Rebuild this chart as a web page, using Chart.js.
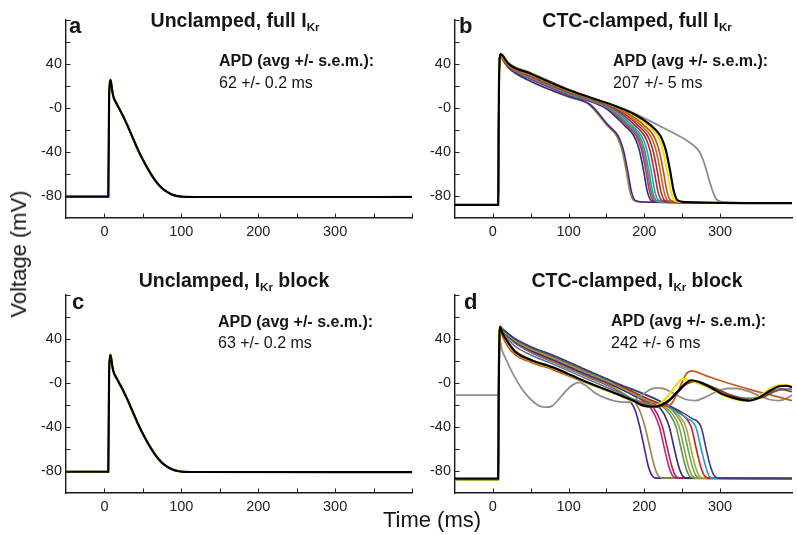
<!DOCTYPE html>
<html>
<head>
<meta charset="utf-8">
<script src="https://cdn.jsdelivr.net/npm/chart.js@4.4.1/dist/chart.umd.min.js"></script>
<style>
  body { margin: 0; width: 797px; height: 535px; position: relative; background: #fff; overflow: hidden; }
  canvas { position: absolute; }
  .t { position: absolute; font-family: 'Liberation Sans', Arial, sans-serif; line-height: 1; white-space: nowrap; color: #151515; }
  .title { font-size: 19.5px; font-weight: bold; transform: translateX(-50%); }
  .sub { font-size: 11.5px; position: relative; top: 4px; }
  .letter { font-size: 22px; font-weight: bold; }
  .apd { font-size: 16px; font-weight: bold; }
  .val { font-size: 16px; }
  .axis { font-size: 22px; }
</style>
</head>
<body>
<canvas id="chartA" width="402" height="248" style="left:16px;top:0px"></canvas>
<canvas id="chartB" width="392" height="248" style="left:405px;top:0px"></canvas>
<canvas id="chartC" width="402" height="248" style="left:16px;top:275px"></canvas>
<canvas id="chartD" width="392" height="248" style="left:405px;top:275px"></canvas>

<div class="t title" style="left:235px;top:11px">Unclamped, full I<span class="sub">Kr</span></div>
<div class="t title" style="left:637px;top:11px">CTC-clamped, full I<span class="sub">Kr</span></div>
<div class="t title" style="left:234px;top:271px">Unclamped, I<span class="sub">Kr</span> block</div>
<div class="t title" style="left:637px;top:271px">CTC-clamped, I<span class="sub">Kr</span> block</div>

<div class="t letter" style="left:69px;top:15px">a</div>
<div class="t letter" style="left:459px;top:15px">b</div>
<div class="t letter" style="left:72px;top:291px">c</div>
<div class="t letter" style="left:464px;top:291px">d</div>

<div class="t apd" style="left:219px;top:53px">APD (avg +/- s.e.m.):</div>
<div class="t val" style="left:219px;top:75px">62 +/- 0.2 ms</div>
<div class="t apd" style="left:613px;top:53px">APD (avg +/- s.e.m.):</div>
<div class="t val" style="left:613px;top:75px">207 +/- 5 ms</div>
<div class="t apd" style="left:218px;top:314px">APD (avg +/- s.e.m.):</div>
<div class="t val" style="left:218px;top:335px">63 +/- 0.2 ms</div>
<div class="t apd" style="left:611px;top:313px">APD (avg +/- s.e.m.):</div>
<div class="t val" style="left:611px;top:335px">242 +/- 6 ms</div>

<div class="t axis" style="left:19px;top:254px;transform:translate(-50%,-50%) rotate(-90deg)">Voltage (mV)</div>
<div class="t axis" style="left:432px;top:509px;transform:translateX(-50%)">Time (ms)</div>

<script>
// ---- panel a: unclamped, full IKr  ([time ms, voltage mV])
const aBrown = [[-50,-80.4],[5,-80.4],[6,5],[7,22.5],[8,25],[9.5,19.5],[10.5,14.5],[12,10],[15,5.5],[18,1.5],[21,-2.5],[24,-6.5],[27,-11],[30,-15.5],[34,-22],[38,-28.5],[42,-35],[46,-41],[50,-46.5],[55,-53],[60,-59],[65,-64.3],[70,-69],[75,-72.7],[80,-75.4],[85,-77.5],[90,-79],[95,-80],[100,-80.5],[120,-80.7],[400,-80.6]];
const aGreen = [[-50,-80.8],[5,-80.8],[6,5],[7,22],[8,24.8],[9.5,18.5],[10.5,13.5],[12,9],[15,4.5],[18,0.5],[21,-3.5],[24,-7.5],[27,-12],[30,-16.5],[34,-23],[38,-29.5],[42,-36],[46,-42],[50,-47.5],[55,-54],[60,-60],[65,-65.3],[70,-69.6],[75,-73.3],[80,-75.8],[85,-77.9],[90,-79.3],[95,-80.2],[100,-80.7],[120,-81],[400,-81]];
const aYellow = [[-50,-80.6],[5,-80.6],[6,6],[7,23.5],[8,26.3],[9.5,20],[10.5,14.5],[12,10],[15,5],[18,1],[24,-7],[30,-16],[38,-29],[46,-41.5],[55,-53.5],[65,-64.8],[75,-73],[85,-77.7],[95,-80.1],[110,-80.8],[400,-80.9]];
const aBlack = [[-50,-80.6],[5,-80.6],[6,5],[7,22.5],[8,25.3],[9.5,19],[10.5,14],[12,9.5],[15,5],[18,1],[21,-3],[24,-7],[27,-11.5],[30,-16],[34,-22.5],[38,-29],[42,-35.5],[46,-41.5],[50,-47],[55,-53.5],[60,-59.5],[65,-64.8],[70,-69.3],[75,-73],[80,-75.6],[85,-77.7],[90,-79.2],[95,-80.1],[100,-80.6],[120,-80.9],[400,-80.9]];

// ---- panel c: unclamped, IKr block
const cBrown = [[-50,-80.5],[5,-80.5],[6,5],[7,22.5],[8,25],[9.5,19.6],[10.5,14.6],[12,10.2],[15,5.8],[18,1.9],[21,-2],[24,-6],[27,-10.3],[30,-14.7],[34,-21.2],[38,-27.6],[42,-34],[46,-40.1],[50,-45.7],[55,-52.3],[60,-58.4],[65,-63.8],[70,-68.4],[75,-72.3],[80,-75.1],[85,-77.3],[90,-78.9],[95,-79.9],[100,-80.5],[120,-80.8],[400,-80.7]];
const cGreen = [[-50,-80.9],[5,-80.9],[6,5],[7,22],[8,24.8],[9.5,18.6],[10.5,13.6],[12,9.2],[15,4.8],[18,0.8],[21,-3.1],[24,-7.1],[27,-11.5],[30,-16],[34,-22.5],[38,-29],[42,-35.4],[46,-41.5],[50,-47],[55,-53.5],[60,-59.5],[65,-64.8],[70,-69.3],[75,-73],[80,-75.6],[85,-77.7],[90,-79.2],[95,-80.2],[100,-80.7],[120,-81],[400,-81.1]];
const cYellow = [[-50,-80.7],[5,-80.7],[6,6],[7,23.5],[8,26.3],[9.5,20],[10.5,14.6],[12,10.1],[15,5.3],[18,1.3],[24,-6.6],[30,-15.4],[38,-28.3],[46,-40.8],[55,-53],[65,-64.3],[75,-72.7],[85,-77.5],[95,-80],[110,-80.8],[400,-81]];
const cBlack = [[-50,-80.7],[5,-80.7],[6,5],[7,22.5],[8,25.3],[9.5,19.2],[10.5,14.3],[12,9.8],[15,5.4],[18,1.5],[21,-2.4],[24,-6.3],[27,-10.7],[30,-15.1],[34,-21.6],[38,-28],[42,-34.5],[46,-40.6],[50,-46.2],[55,-52.7],[60,-58.8],[65,-64.2],[70,-68.8],[75,-72.6],[80,-75.3],[85,-77.5],[90,-79],[95,-80],[100,-80.5],[120,-80.9],[400,-81]];

// ---- panel b: CTC-clamped, full IKr
const bOlive = [[-50,-88],[7,-88],[8,15],[9,45],[10.5,48],[13,44],[20,37],[50,24],[100,10],[126,3.5],[151,-16],[163,-25],[168,-33],[171,-40],[176,-57],[181,-76],[186,-84],[196,-85.5],[395,-86.5]];
const bPurple = [[-50,-88],[7,-88],[8,15],[9,45],[10.5,48],[13,44.2],[20,37.2],[50,24.4],[100,10.4],[128,3.4],[153,-16],[165,-25],[170,-33],[173,-40],[178,-57],[183,-76],[188,-84],[198,-85.5],[395,-86.5]];
const bNavy = [[-50,-88],[7,-88],[8,15],[9,45],[10.5,48.5],[13,45.2],[20,38.2],[50,26.4],[100,12.1],[149,-0.2],[174,-16],[186,-25],[191,-33],[194,-40],[199,-57],[204,-76],[209,-84],[219,-85.5],[395,-86.5]];
const bMagenta = [[-50,-88],[7,-88],[8,15],[9,45],[10.5,48.5],[13,45.4],[20,38.4],[50,26.8],[100,12.5],[152,-0.5],[177,-16],[189,-25],[194,-33],[197,-40],[202,-57],[207,-76],[212,-84],[222,-85.5],[395,-86.5]];
const bSteel = [[-50,-88],[7,-88],[8,15],[9,45],[10.5,48.5],[13,45.6],[20,38.6],[50,27.2],[100,12.8],[154,-0.7],[179,-16],[191,-25],[196,-33],[199,-40],[204,-57],[209,-76],[214,-84],[224,-85.5],[395,-86.5]];
const bGreen = [[-50,-88],[7,-88],[8,15],[9,45],[10.5,48.5],[13,45.8],[20,38.8],[50,27.6],[100,13.2],[156,-0.8],[181,-16],[193,-25],[198,-33],[201,-40],[206,-57],[211,-76],[216,-84],[226,-85.5],[395,-86.5]];
const bBlue = [[-50,-88],[7,-88],[8,15],[9,45],[10.5,48.8],[13,46.2],[20,39.2],[50,28.4],[100,13.9],[159,-0.9],[184,-16],[196,-25],[201,-33],[204,-40],[209,-57],[214,-76],[219,-84],[229,-85.5],[395,-86.5]];
const bRed = [[-50,-88],[7,-88],[8,15],[9,45],[10.5,48.8],[13,46.4],[20,39.4],[50,28.8],[100,14.2],[163,-1.6],[188,-16],[200,-25],[205,-33],[208,-40],[213,-57],[218,-76],[223,-84],[233,-85.5],[395,-86.5]];
const bDarkRed = [[-50,-88],[7,-88],[8,15],[9,45],[10.5,48.8],[13,46.6],[20,39.6],[50,29.2],[100,14.6],[167,-2.2],[192,-16],[204,-25],[209,-33],[212,-40],[217,-57],[222,-76],[227,-84],[237,-85.5],[395,-86.5]];
const bOrange = [[-50,-88],[7,-88],[8,15],[9,45],[10.5,49],[13,45],[20,38.5],[50,29.6],[100,14.9],[171,-2.9],[196,-16],[208,-25],[213,-33],[216,-40],[221,-57],[226,-76],[231,-84],[241,-85.5],[395,-86.5]];
const bBrown = [[-50,-88],[7,-88],[8,15],[9,45],[10.5,49],[13,47.2],[20,40.2],[50,30.4],[100,15.6],[175,-3.2],[200,-16],[212,-25],[217,-33],[220,-40],[225,-57],[230,-76],[235,-84],[245,-85.5],[395,-86.5]];
const bYellow = [[-50,-88],[7,-88],[8,15],[9,45],[10.5,49],[13,47.4],[20,40.4],[50,30.8],[100,16],[180,-4],[205,-16],[217,-25],[222,-33],[225,-40],[230,-57],[235,-76],[240,-84],[250,-85.5],[395,-86.5]];
const bGray = [[-50,-88],[7,-88],[8,15],[9,45],[10.5,49],[13,48],[20,41.5],[50,32],[100,17],[140,7],[181,-3],[225,-18],[255,-29],[265,-34],[273,-40],[279,-50],[285,-64],[291,-77],[296,-83.5],[305,-85.5],[395,-86.5]];
const bBlack = [[-50,-88],[7,-88],[8,15],[9,45],[10.5,49],[13,47.6],[20,40.6],[50,31.2],[100,16.3],[184,-4.7],[209,-16],[221,-25],[226,-33],[229,-40],[234,-57],[239,-76],[244,-84],[254,-85.5],[395,-86.5]];

// ---- panel d: CTC-clamped, IKr block
const dPurple = [[-50,-87.5],[7,-87.5],[8,15],[9.5,51],[13,47],[20,42],[30,36],[50,28],[80,19],[120,7],[160,-5],[175,-12],[182,-17],[188,-25],[194,-40],[200,-59],[205,-75],[210,-84],[216,-86.5],[395,-86.8]];
const dOlive = [[-50,-87.5],[7,-87.5],[8,15],[9.5,51],[13,47],[20,42],[30,36.2],[50,28.2],[80,19.3],[120,7.3],[160,-4.5],[180,-13],[189,-19],[195,-27],[201,-40],[207,-58],[213,-75],[218,-84],[225,-86.5],[395,-86.8]];
const dMagenta = [[-50,-87.5],[7,-87.5],[8,15],[9.5,51],[13,47.5],[20,42.7],[30,37],[50,29.2],[80,20.5],[120,8.5],[160,-2.7],[185,-11],[205,-20],[213,-28],[220,-40],[226,-58],[232,-75],[237,-84],[244,-86.5],[395,-86.8]];
const dCrimson = [[-50,-87.5],[7,-87.5],[8,15],[9.5,51],[13,47.6],[20,42.9],[30,37.2],[50,29.5],[80,20.8],[120,8.8],[160,-2.5],[188,-12],[209,-20],[217,-28],[224,-40],[230,-58],[236,-75],[241,-84],[248,-86.5],[395,-86.8]];
const dNavy = [[-50,-87.5],[7,-87.5],[8,15],[9.5,51],[13,47.8],[20,43.2],[30,37.6],[50,30],[80,21.4],[120,9.4],[160,-2],[195,-14],[218,-21],[226,-28],[233,-40],[239,-58],[245,-75],[250,-84],[257,-86.5],[395,-86.8]];
const dGreen = [[-50,-88],[7,-88],[8,15],[9.5,51],[13,48.1],[20,43.7],[30,38.2],[50,30.8],[80,22.3],[120,10.3],[160,-1.2],[200,-15],[225,-22],[234,-29],[242,-40],[248,-58],[254,-75],[259,-84],[266,-86.5],[395,-86.8]];
const dTan = [[-50,-87.5],[7,-87.5],[8,15],[9.5,51],[13,48.2],[20,43.8],[30,38.4],[50,31],[80,22.6],[120,10.6],[160,-1],[202,-15],[228,-22],[238,-29],[246,-40],[252,-58],[258,-75],[263,-84],[270,-86.5],[395,-86.8]];
const dGreen2 = [[-50,-88],[7,-88],[8,15],[9.5,51],[13,48.4],[20,44.1],[30,38.8],[50,31.5],[80,23.2],[120,11.2],[160,-0.5],[205,-16],[232,-22],[242,-29],[251,-40],[257,-58],[263,-75],[268,-84],[275,-86.5],[395,-86.8]];
const dGold = [[-50,-87.5],[7,-87.5],[8,15],[9.5,51],[13,48.5],[20,44.3],[30,39],[50,31.8],[80,23.5],[120,11.5],[160,-0.3],[207,-16],[236,-23],[246,-30],[255,-40],[261,-58],[267,-75],[272,-84],[279,-86.5],[395,-86.8]];
const dRed = [[-50,-87.5],[7,-87.5],[8,15],[9.5,51],[13,48.7],[20,44.6],[30,39.4],[50,32.3],[80,24.1],[120,12.1],[160,0.3],[210,-16],[240,-24],[252,-30],[262,-40],[268,-58],[274,-75],[279,-84],[286,-86.5],[395,-86.8]];
const dBlue = [[-50,-87.5],[7,-87.5],[8,15],[9.5,51],[13,48.9],[20,44.9],[30,39.8],[50,32.8],[80,24.7],[120,12.7],[160,0.8],[220,-16],[242,-26],[256,-32],[268,-40],[275,-60],[281,-76],[286,-85],[292,-86.5],[395,-86.8]];
const dNavy2 = [[-50,-87.5],[7,-87.5],[8,15],[9.5,51],[13,49],[20,45],[30,40],[50,33],[80,25],[120,13],[160,1],[222,-17],[248,-26],[262,-32],[275,-40],[281,-58],[287,-75],[292,-84],[299,-86.5],[395,-86.8]];
const dOrange = [[-50,-87.5],[7,-87.5],[8,15],[9.5,50],[13,42],[20,33],[30,25.5],[50,19],[80,12],[120,1],[160,-9],[200,-18],[220,-21],[234,-20],[245,-7],[255,8],[263,11],[280,7],[310,0],[340,-6],[370,-11.5],[395,-16]];
const dSteel = [[-50,-87.5],[7,-87.5],[8,15],[9.5,50.5],[13,46.5],[20,40],[30,33],[50,25.5],[80,17],[120,5],[164,-8],[200,-19],[215,-21],[228,-18],[242,-9],[252,-2],[262,1.5],[275,0.5],[295,-5],[315,-11],[335,-14],[352,-12.5],[365,-9],[378,-5],[395,-6]];
const dBrown = [[-50,-87.5],[7,-87.5],[8,15],[9.5,50.5],[13,44],[20,37],[30,29],[50,21.5],[80,13],[120,1.5],[164,-10],[200,-20],[218,-22],[232,-17],[245,-8],[256,-1],[266,1],[280,-1],[300,-7],[320,-12.5],[340,-15],[355,-13.5],[368,-9],[382,-6],[395,-8]];
const dGray = [[-50,-11],[7,-11],[8,10],[9.5,38],[12,30],[17,22],[23,13],[30,4],[38,-5],[46,-12],[55,-18],[62,-21],[70,-22],[78,-21],[88,-14],[98,-6],[106,-1.5],[114,0.5],[122,-2],[135,-9],[150,-14],[165,-17],[180,-17.5],[195,-12],[205,-7],[215,-4.5],[225,-5],[240,-10],[255,-15],[268,-16],[280,-13],[295,-8],[310,-5],[322,-5],[335,-7],[350,-11],[365,-15],[378,-16],[388,-14],[395,-11]];
const dYellow = [[-50,-87.5],[7,-87.5],[8,15],[9.5,52],[13,45.5],[20,36.5],[30,27.5],[50,20.5],[80,13.5],[120,1.5],[164,-10.5],[185,-16.5],[200,-21],[210,-21.5],[222,-18],[232,-11],[242,-2],[250,3.5],[258,3],[270,0],[290,-6],[303,-11],[320,-15],[335,-16],[350,-13],[362,-7],[372,-3],[385,-2],[395,-3]];
const dBlack = [[-50,-87],[7,-87],[8,15],[9.5,51],[13,45],[20,37],[30,28],[50,21],[80,14],[120,2],[164,-10],[185,-16],[199,-20.6],[210,-21.5],[222,-20],[234,-15],[245,-7],[255,0],[262,2.5],[272,1],[290,-5],[303,-10],[320,-14],[338,-16],[352,-13],[365,-7.5],[378,-3],[388,-2.5],[395,-4]];

// axis ticks
const xTickStep = 50;
const xLabels = [0, 100, 200, 300];
const yTickStep = 20;
const yLabels = { '40': '40', '0': '-0', '-40': '-40', '-80': '-80' };

const FONT = "'Liberation Sans', Arial, sans-serif";

const innerTicks = {
  id: 'innerTicks',
  afterDatasetsDraw(chart) {
    const { ctx, chartArea: area, scales: { x, y } } = chart;
    ctx.save();
    ctx.strokeStyle = '#222';
    ctx.lineWidth = 1;
    ctx.beginPath();
    x.ticks.forEach(t => {
      if (t.value % xTickStep !== 0 || t.value <= x.min) return;
      const px = Math.round(x.getPixelForValue(t.value)) + 0.5;
      ctx.moveTo(px, area.bottom);
      ctx.lineTo(px, area.bottom - 4.5);
    });
    y.ticks.forEach(t => {
      if (t.value <= y.min) return;
      const py = Math.round(y.getPixelForValue(t.value)) + 0.5;
      ctx.moveTo(area.left, py);
      ctx.lineTo(area.left + 4.5, py);
    });
    ctx.stroke();
    ctx.restore();
  }
};

function toPoints(arr) {
  return arr.map(p => ({ x: p[0], y: p[1] }));
}

// traces listed bottom -> top
function makePanel(id, xMax, padRight, traces) {
  const datasets = traces.slice().reverse().map(t => ({
    data: toPoints(t[0]),
    borderColor: t[1],
    borderWidth: t[2],
    pointRadius: 0,
    fill: false,
    cubicInterpolationMode: 'monotone'
  }));
  new Chart(document.getElementById(id), {
    type: 'line',
    data: { datasets },
    options: {
      responsive: false,
      animation: false,
      events: [],
      layout: { padding: { top: 20, right: padRight, left: 0, bottom: 0 }, autoPadding: false },
      plugins: { legend: { display: false }, tooltip: { enabled: false } },
      scales: {
        x: {
          type: 'linear', min: -50, max: xMax,
          grid: { display: false, drawTicks: false },
          border: { display: true, color: '#1a1a1a', width: 1.4 },
          ticks: {
            stepSize: xTickStep, autoSkip: false, maxRotation: 0, padding: 5,
            color: '#222', font: { family: FONT, size: 14.5 },
            callback: v => xLabels.includes(v) ? String(v) : ''
          },
          afterFit: s => { s.height = 30; }
        },
        y: {
          min: -100, max: 80,
          grid: { display: false, drawTicks: false },
          border: { display: true, color: '#1a1a1a', width: 1.4 },
          ticks: {
            stepSize: yTickStep, autoSkip: false, padding: 4,
            color: '#222', font: { family: FONT, size: 14.5 },
            callback: v => yLabels[String(v)] || ''
          },
          afterFit: s => { s.width = 50; }
        }
      }
    },
    plugins: [innerTicks]
  });
}

makePanel('chartA', 400, 6, [
  [aBrown, '#b3531f', 1.6], [aGreen, '#4f9e3f', 1.6], [aYellow, '#e0d000', 1.8], [aBlack, '#000000', 2.2]
]);
makePanel('chartC', 400, 6, [
  [cBrown, '#b3531f', 1.6], [cGreen, '#4f9e3f', 1.6], [cYellow, '#e0d000', 1.8], [cBlack, '#000000', 2.2]
]);
makePanel('chartB', 395, 0, [
  [bOlive, '#8a8a4a', 1.6], [bPurple, '#4b2387', 1.6], [bNavy, '#2e2e6b', 1.6], [bMagenta, '#c0267a', 1.6],
  [bSteel, '#5b7a99', 1.6], [bGreen, '#4f9e3f', 1.6], [bBlue, '#1e9ae0', 1.6], [bRed, '#c9201f', 1.6],
  [bDarkRed, '#8e3b2a', 1.6], [bOrange, '#d0611f', 1.6], [bBrown, '#b3531f', 1.6], [bGray, '#8e8e8e', 1.8],
  [bYellow, '#f2e200', 2], [bBlack, '#000000', 2.2]
]);
makePanel('chartD', 395, 0, [
  [dPurple, '#4b2387', 1.6], [dOlive, '#8a8a4a', 1.6], [dMagenta, '#c0267a', 1.6], [dCrimson, '#a0285a', 1.6],
  [dNavy, '#2e2e6b', 1.6], [dGreen, '#4f9e3f', 1.6], [dTan, '#a09646', 1.6], [dGreen2, '#62a850', 1.6],
  [dGold, '#b4a03c', 1.6], [dRed, '#c9201f', 1.6], [dBlue, '#1e9ae0', 1.6], [dNavy2, '#3c3c78', 1.6],
  [dGray, '#8e8e8e', 1.8], [dOrange, '#c8581e', 1.8], [dSteel, '#5b7a99', 1.6], [dBrown, '#8e3b2a', 1.6],
  [dYellow, '#f2e200', 2.2], [dBlack, '#000000', 2.2]
]);
</script>
</body>
</html>
